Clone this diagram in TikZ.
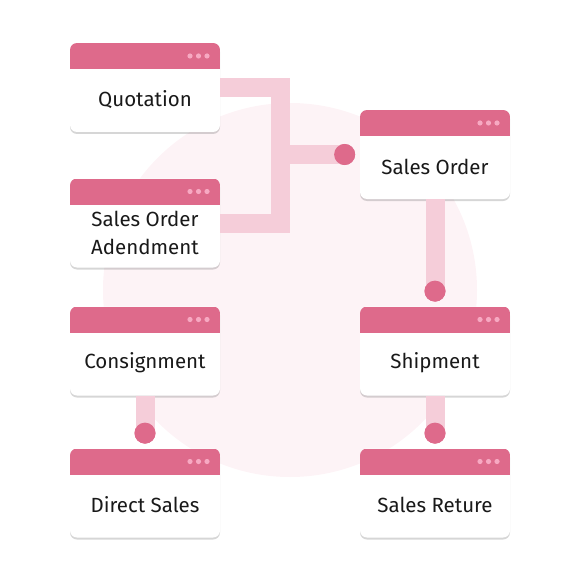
\documentclass[tikz,border=0pt]{standalone}
\usepackage{fontspec}
\setmainfont{Fira Sans}
\usetikzlibrary{positioning,
    shadows}

\definecolor{winhead}{HTML}{DE6A8B}
\definecolor{windot}{HTML}{F7A9C2}
\definecolor{bandpink}{HTML}{F5CDD9}
\definecolor{dotpink}{HTML}{DE6A8B}
\definecolor{backpink}{HTML}{FDF3F6}

\begin{document}
\begin{tikzpicture}[x=1pt, y=-1pt,
                  win/.style = {fill=white, rounded corners=7pt,
                      minimum width=150pt, minimum height=89pt, inner sep=0pt,
                      drop shadow={shadow xshift=0pt, shadow yshift=-2pt,
                          opacity=0.2, fill=black!80, rounded corners=7pt},
                      path picture={
                          \fill[winhead, sharp corners] (path picture bounding box.north west)
                              rectangle ([yshift=-26pt]path picture bounding box.north east);
                          \foreach \k in {0,1,2}
                          \fill[windot] ([xshift={-13pt-\k*8.5pt}, yshift=-13pt]path picture bounding box.north east) circle (2.6pt);
                          }},
                  wintext/.style = {align=center, font=\fontsize{20.5}{28}\selectfont,
                      text=black!90, inner sep=0pt},
                  band/.style = {draw=bandpink, line width=19pt},
                  dot/.style = {circle, fill=dotpink, minimum size=21pt, inner sep=0pt}
                  ]
\useasboundingbox (0,0) rectangle (580,580);
\fill[backpink] (290,290) circle (187pt);
% windows
\foreach \n/\p in {quot/{145,87.5}, soa/{145,223}, so/{435,154.5},
                   cons/{145,351}, ds/{145,493}, ship/{435,351}, sr/{435,493}}
  \node[win] (\n) at (\p) {};
\foreach \n/\t in {quot/Quotation, so/Sales Order,
                   cons/Consignment, ds/Direct Sales, ship/Shipment, sr/Sales Reture}
  \node[wintext] (\n-t) at ([yshift=-12pt]\n.center) {\t};
\node[wintext] (soa-t) at ([yshift=-10pt]soa.center) {Sales Order\\Adendment};
% joints
\node[dot] (d1) [left=4.5pt of so] {};
\node[dot] (d2) [above=4.5pt of ship] {};
\node[dot] (d3) [above=4.5pt of sr] {};
\node[dot] (d4) [above=4.5pt of ds] {};
\coordinate (j) at ([xshift=60pt]quot.east);
% connectors
\draw[band] (quot.east) -- (j) |- (soa.east);
\draw[band] (d1.center -| j) -- (d1.center);
\draw[band] (so.south) -- (d2.center);
\draw[band] (ship.south) -- (d3.center);
\draw[band] (cons.south) -- (d4.center);
\foreach \d in {d1,d2,d3,d4}
  \node[dot] at (\d) {};
\end{tikzpicture}
\end{document}
